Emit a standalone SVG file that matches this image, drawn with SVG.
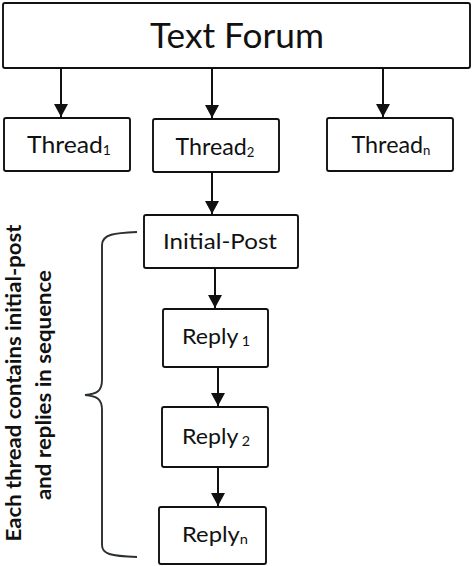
<svg xmlns="http://www.w3.org/2000/svg" width="474" height="566" viewBox="0 0 474 566">
<defs>
<style>
.box{fill:#fff;stroke:#111;stroke-width:1.9}
.lbl{font-family:Lato,"Liberation Sans",sans-serif;fill:#111;text-anchor:middle}
.sub{font-size:13px}
.edge{stroke:#111;stroke-width:2;fill:none;marker-end:url(#ah)}
.brace{stroke:#2a2f2f;stroke-width:1.9;fill:none}
.side{font-family:Lato,"Liberation Sans",sans-serif;font-weight:bold;font-size:20px;fill:#111;text-anchor:middle}
</style>
<marker id="ah" markerUnits="userSpaceOnUse" markerWidth="15" markerHeight="15" viewBox="0 0 15 15" refX="13" refY="7.5" orient="auto">
<path d="M0,0.5 L13,7.5 L0,14.5 Z" fill="#111"/>
</marker>
</defs>
<rect width="474" height="566" fill="#fff"/>
<g id="connectors">
<line class="edge" x1="61" y1="68" x2="61" y2="117"/>
<line class="edge" x1="212" y1="68" x2="212" y2="118"/>
<line class="edge" x1="383" y1="68" x2="383" y2="117"/>
<line class="edge" x1="212" y1="172" x2="212" y2="214"/>
<line class="edge" x1="215" y1="268" x2="215" y2="308"/>
<line class="edge" x1="218" y1="367" x2="218" y2="406"/>
<line class="edge" x1="218" y1="467" x2="218" y2="506"/>
</g>
<g id="forum">
<rect class="box" x="3" y="3" width="467" height="65" rx="2"/>
<text class="lbl" x="237" y="48" font-size="35" textLength="174" lengthAdjust="spacingAndGlyphs">Text Forum</text>
</g>
<g id="thread1">
<rect class="box" x="4" y="118" width="126" height="53" rx="2"/>
<text class="lbl" x="69" y="153" font-size="23" textLength="84" lengthAdjust="spacingAndGlyphs">Thread<tspan class="sub" dy="2">1</tspan></text>
</g>
<g id="thread2">
<rect class="box" x="153" y="119" width="126" height="53" rx="2"/>
<text class="lbl" x="215" y="155" font-size="23" textLength="79" lengthAdjust="spacingAndGlyphs">Thread<tspan class="sub" dy="2">2</tspan></text>
</g>
<g id="threadn">
<rect class="box" x="327" y="118" width="126" height="53" rx="2"/>
<text class="lbl" x="391" y="153" font-size="23" textLength="79" lengthAdjust="spacingAndGlyphs">Thread<tspan class="sub" dy="2">n</tspan></text>
</g>
<g id="initial-post">
<rect class="box" x="144" y="215" width="154" height="53" rx="2"/>
<text class="lbl" x="220" y="249" font-size="22" textLength="114" lengthAdjust="spacingAndGlyphs">Initial-Post</text>
</g>
<g id="reply1">
<rect class="box" x="163" y="309" width="105" height="58" rx="2"/>
<text class="lbl" x="216" y="344" font-size="21" textLength="68" lengthAdjust="spacingAndGlyphs">Reply<tspan class="sub" dx="3" dy="2">1</tspan></text>
</g>
<g id="reply2">
<rect class="box" x="162" y="407" width="106" height="60" rx="2"/>
<text class="lbl" x="216" y="444" font-size="21" textLength="68" lengthAdjust="spacingAndGlyphs">Reply<tspan class="sub" dx="3" dy="2">2</tspan></text>
</g>
<g id="replyn">
<rect class="box" x="159" y="507" width="107" height="57" rx="2"/>
<text class="lbl" x="215" y="542" font-size="21" textLength="66" lengthAdjust="spacingAndGlyphs">Reply<tspan class="sub" dy="2">n</tspan></text>
</g>
<g id="brace-note">
<path class="brace" d="M137,232 C115,233 102,234 102,245 L102,380 C102,391 97,394 85,395 C97,396 102,399 102,410 L102,545 C102,554 110,556 137,557"/>
<text class="side" transform="translate(21,383) rotate(-90)" textLength="317" lengthAdjust="spacingAndGlyphs">Each thread contains initial-post</text>
<text class="side" transform="translate(51,385) rotate(-90)" textLength="230" lengthAdjust="spacingAndGlyphs">and replies in sequence</text>
</g>
</svg>
